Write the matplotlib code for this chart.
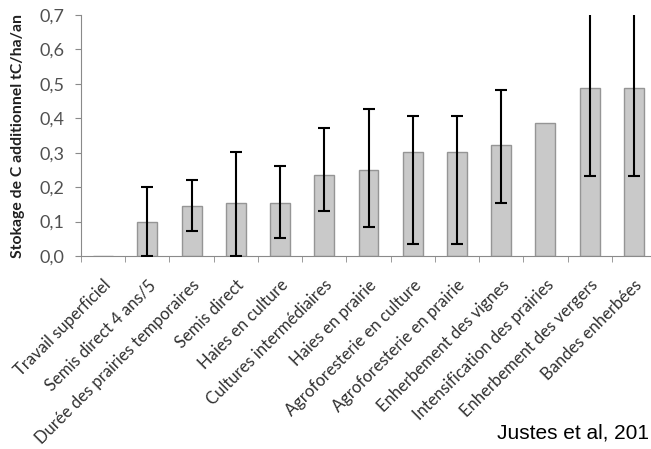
import matplotlib
matplotlib.use("Agg")
import matplotlib.pyplot as plt
import numpy as np

categories = ["Travail superficiel", "Semis direct 4 ans/5", "Durée des prairies temporaires",
              "Semis direct", "Haies en culture", "Cultures intermédiaires", "Haies en prairie",
              "Agroforesterie en culture", "Agroforesterie en prairie", "Enherbement des vignes",
              "Intensification des prairies", "Enherbement des vergers", "Bandes enherbées"]
values = [0.0, 0.10, 0.144, 0.154, 0.154, 0.236, 0.249, 0.303, 0.303, 0.323, 0.385, 0.488, 0.488]
err_low = [np.nan, 0.0, 0.073, 0.0, 0.052, 0.132, 0.084, 0.035, 0.035, 0.154, np.nan, 0.231, 0.231]
err_high = [np.nan, 0.20, 0.222, 0.302, 0.262, 0.372, 0.428, 0.406, 0.406, 0.481, np.nan, 0.745, 0.745]
yticks = [0.0, 0.1, 0.2, 0.3, 0.4, 0.5, 0.6, 0.7]
ytick_labels = ["0,0", "0,1", "0,2", "0,3", "0,4", "0,5", "0,6", "0,7"]

plt.rcParams['font.family'] = ['Lato', 'DejaVu Sans']
fig = plt.figure(figsize=(6.51, 4.49), dpi=100)
W, H = 651, 449
ax = fig.add_axes([81 / W, 1 - 256 / H, 575 / W, (256 - 15) / H])

x = np.arange(len(categories))
vals = np.array(values)
lo = np.array(err_low)
hi = np.array(err_high)
ax.bar(x, vals, width=0.45, color="#c9c9c9", edgecolor="#959595", linewidth=1.0, zorder=2)
mask = ~np.isnan(lo)
ax.errorbar(x[mask], vals[mask], yerr=[vals[mask] - lo[mask], hi[mask] - vals[mask]],
            fmt="none", ecolor="black", elinewidth=1.5, capsize=4.5, capthick=1.5, zorder=3)

ax.set_xlim(-0.5, len(categories) - 0.5)
ax.set_ylim(0, 0.7)
ax.set_yticks(yticks)
ax.set_yticklabels(ytick_labels, fontsize=13, color="#505050")
ax.set_xticks(x)
ax.set_xticklabels(categories, rotation=45, ha="right", rotation_mode="anchor",
                   fontsize=12, color="#303030")
ax.set_xticks(np.arange(len(categories) + 1) - 0.5, minor=True)
ax.tick_params(axis="x", which="major", length=0, pad=15)
ax.tick_params(axis="x", which="minor", length=4, color="#8a8a8a")
ax.tick_params(axis="y", length=4, color="#8a8a8a", pad=8)
for s in ["top", "right"]:
    ax.spines[s].set_visible(False)
for s in ["left", "bottom"]:
    ax.spines[s].set_color("#8a8a8a")
ax.set_ylabel("Stokage de C additionnel tC/ha/an", fontsize=11.3, fontweight="bold",
              color="#202020", labelpad=10)

fig.text(497 / W, 1 - 433 / H, "Justes et al, 201", fontsize=15, family="Liberation Sans",
         ha="left", va="center", color="black")

fig.savefig("out.png", dpi=100)
